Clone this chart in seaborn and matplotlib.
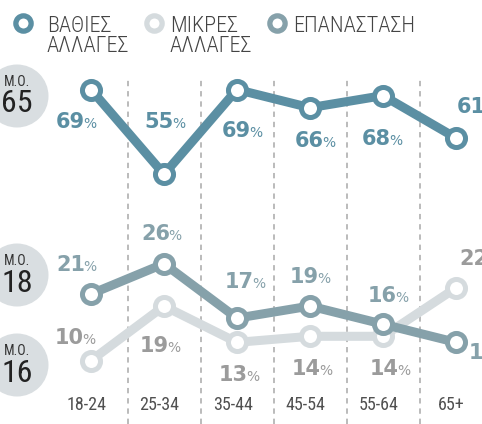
import numpy as np
import pandas as pd
import matplotlib.pyplot as plt
import seaborn as sns
from matplotlib.patches import Circle

# data
ages = ['18-24', '25-34', '35-44', '45-54', '55-64', '65+']
deep = [69, 55, 69, 66, 68, 61]
small = [10, 19, 13, 14, 14, 22]
revolution = [21, 26, 17, 19, 16, 13]
legend_names = ['ΒΑΘΙΕΣ\nΑΛΛΑΓΕΣ', 'ΜΙΚΡΕΣ\nΑΛΛΑΓΕΣ', 'ΕΠΑΝΑΣΤΑΣΗ']
mean_deep, mean_rev, mean_small = 65, 18, 16

C_DEEP = '#5b8fa3'
C_SMALL = '#d5dbde'
C_REV = '#86a1aa'
C_SMALL_TXT = '#9b9b9b'
C_TEXT = '#444444'
C_BADGE = '#d9dee1'

sns.set_style('white')
plt.rcParams['font.family'] = ['Roboto Condensed', 'Roboto', 'DejaVu Sans']
NUM_FONT = ['DejaVu Sans']

W, H = 482, 424
PX = 0.72  # points per pixel at dpi 100
fig = plt.figure(figsize=(W / 100, H / 100), dpi=100)

x0, step = 91, 73   # pixel x of first category, spacing
scale = 6.05        # pixels per percentage point

bg = fig.add_axes([0, 0, 1, 1], zorder=0)
bg.set_xlim(0, W)
bg.set_ylim(H, 0)
bg.axis('off')

ax_lo = fig.add_axes([0, 0, 1, 1], zorder=1)
ax_hi = fig.add_axes([0, 0, 1, 1], zorder=2)

df = pd.DataFrame({
    'pos': list(range(len(ages))) * 3,
    'value': deep + small + revolution,
    'series': ['deep'] * 6 + ['small'] * 6 + ['rev'] * 6,
})


def draw(ax, name, color, z):
    sns.lineplot(data=df[df.series == name], x='pos', y='value', ax=ax,
                 color=color, lw=6.5, marker='o', ms=13, mew=3.6,
                 mfc='white', mec=color, legend=False, zorder=z)


draw(ax_lo, 'small', C_SMALL, 3)
draw(ax_lo, 'rev', C_REV, 4)
draw(ax_hi, 'deep', C_DEEP, 4)

# same scale for both, the deep-changes group is lifted up (broken axis)
for ax, base in [(ax_lo, 421), (ax_hi, 507)]:
    ax.set_xlim(-x0 / step, (W - x0) / step)
    ax.set_ylim((base - H) / scale, base / scale)
    ax.axis('off')

for i in range(len(ages) - 1):
    ax_lo.axvline(i + 0.5, ymin=0, ymax=(H - 76) / H, color='#a8a8a8',
                  lw=1.1, ls=(0, (3.5, 3.2)), zorder=0)

# value labels: offset (px right, px down) of the number's end / baseline
off_deep = [(-6, 38), (10, -46), (14, 47), (14, 39), (8, 49), (30, -25)]
off_small = [(-7, -17), (5, 46), (11, 39), (11, 39), (16, 39), (32, -23)]
off_rev = [(-6, -23), (6, -24), (17, -30), (9, -23), (14, -22), (42, 17)]


def labels(ax, vals, offs, color):
    for i, (v, (ox, oy)) in enumerate(zip(vals, offs)):
        kw = dict(xy=(i, v), textcoords='offset points', va='baseline',
                  color=color, annotation_clip=False, family=NUM_FONT, zorder=6)
        ax.annotate(str(v), xytext=(ox * PX, -oy * PX), ha='right',
                    fontsize=15, fontweight='bold', **kw)
        ax.annotate('%', xytext=((ox - 1.5) * PX, -oy * PX), ha='left',
                    fontsize=10, **kw)


labels(ax_hi, deep, off_deep, C_DEEP)
labels(ax_lo, small, off_small, C_SMALL_TXT)
labels(ax_lo, revolution, off_rev, C_REV)

# category labels along the bottom
for i, a in enumerate(ages):
    ax_lo.text(i - 0.06, (H - 405) / H, a, transform=ax_lo.get_xaxis_transform(),
               ha='center', va='center', fontsize=13, color='#505050')

# mean badges on the left
for cy, m in [(96, mean_deep), (275, mean_rev), (365, mean_small)]:
    bg.add_patch(Circle((17, cy), 31.5, color=C_BADGE, lw=0))
    bg.text(17, cy - 14, 'Μ.Ο.', ha='center', va='center', fontsize=10, color='#333333')
    bg.text(17, cy + 8, str(m), ha='center', va='center', fontsize=23, color='#222222')

# legend
for (mx, tx), name, color in zip([(23, 47), (154, 170), (277, 293)], legend_names,
                                 [C_DEEP, C_SMALL, C_REV]):
    bg.plot(mx, 23, marker='o', ms=11, mew=3.8, mfc='white', mec=color)
    for k, line in enumerate(name.split('\n')):
        bg.text(tx, 32 + 20 * k, line, ha='left', va='baseline', fontsize=16,
                fontweight='light', color=C_TEXT)

fig.savefig('out.png', dpi=100)
